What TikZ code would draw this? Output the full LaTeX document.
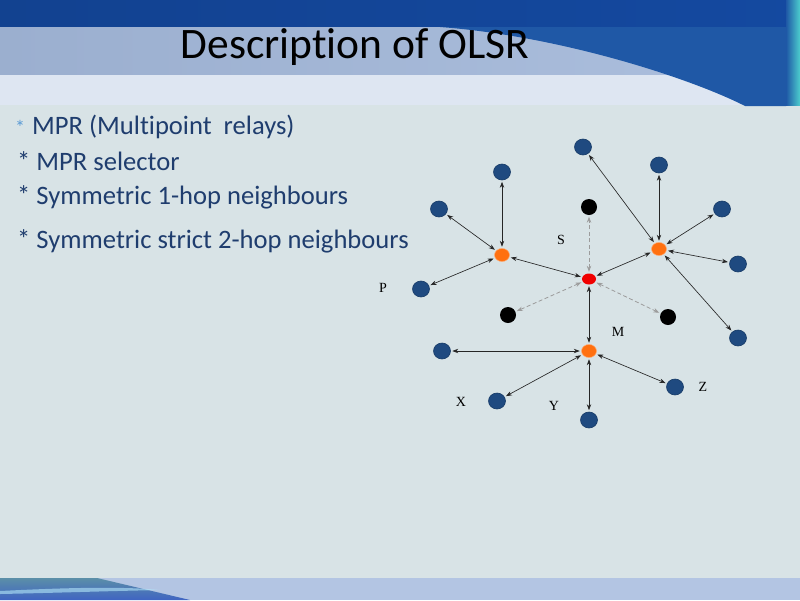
\documentclass[tikz,border=0pt]{standalone}
\usepackage{fontspec}
\setmainfont{Carlito}[RawFeature=-liga]
\newfontfamily\labelfont{Liberation Serif}
\usetikzlibrary{arrows.meta,shapes.geometric}
\definecolor{bodybg}{HTML}{D8E3E6}
\definecolor{darkband}{HTML}{1449A0}
\definecolor{lightband}{HTML}{A3B8DA}
\definecolor{paleband}{HTML}{DEE6F2}
\definecolor{swoosh}{HTML}{1F58A6}
\definecolor{bottomband}{HTML}{B3C5E3}
\definecolor{tealband}{HTML}{5B8FA8}
\definecolor{textblue}{HTML}{1F3D6E}
\definecolor{starblue}{HTML}{5B9BD5}
\definecolor{nodeblue}{HTML}{1F4A80}
\definecolor{nodeblueedge}{HTML}{163A66}
\definecolor{mprorange}{HTML}{FF7010}
\definecolor{selred}{HTML}{F00000}
\definecolor{dashgray}{HTML}{9C9C9C}
\tikzset{
  hop/.style={ellipse, inner sep=0pt, minimum width=17pt, minimum height=16pt, fill=nodeblue, draw=nodeblueedge, line width=0.6pt},
  mpr/.style={ellipse, inner sep=0pt, minimum width=15pt, minimum height=13pt, fill=mprorange, draw=mprorange!60!white, line width=0.5pt},
  sel/.style={ellipse, inner sep=0pt, minimum width=14pt, minimum height=11pt, fill=selred},
  twohop/.style={circle, inner sep=0pt, minimum size=16pt, fill=black},
  link/.style={{Stealth[length=6pt,width=4.4pt]}-{Stealth[length=6pt,width=4.4pt]}, line width=0.65pt, black!85, shorten <=1.5pt, shorten >=1.5pt},
  dlink/.style={{Stealth[length=6pt,width=4.4pt]}-{Stealth[length=6pt,width=4.4pt]}, line width=0.8pt, dashgray, dash pattern=on 4pt off 2.5pt, shorten <=1.5pt, shorten >=1.5pt},
  lbl/.style={font=\labelfont\fontsize{14}{16}\selectfont, inner sep=0pt, text=black},
  bodytext/.style={anchor=base west, inner sep=0pt, text=textblue, font=\fontsize{26.6}{30}\selectfont}
}
\begin{document}
\begin{tikzpicture}[x=1pt,y=-1pt]
\useasboundingbox (0,0) rectangle (800,600);
% backgrounds
\fill[bodybg] (0,0) rectangle (800,600);
\shade[left color=darkband!90!black, right color=darkband] (0,0) rectangle (800,28);
\shade[left color=lightband!95!black, right color=lightband!90!white] (0,27) rectangle (800,75);
\fill[paleband] (0,75) rectangle (800,105);
\fill[swoosh] (440,27) .. controls (560,36) and (690,78) .. (745,106) -- (786,106) -- (786,27) -- cycle;
\shade[left color=swoosh, right color=teal!55!cyan!70!white] (786,0) rectangle (800,105);
\fill[bottomband] (0,578) rectangle (800,600);
\shade[top color=tealband, bottom color=tealband!70!blue] (0,578) -- (97,578) -- (190,600) -- (0,600) -- cycle;
\fill[cyan!30!white, opacity=0.6] (0,591) .. controls (60,588) and (120,586) .. (160,590) .. controls (110,591) and (50,593) .. (0,594) -- cycle;
% title
\node[anchor=base, inner sep=0pt, font=\fontsize{43.5}{48}\selectfont] (title) at (355,58) {Description of OLSR};
% body text
\node[anchor=base west, inner sep=0pt, text=starblue, font=\fontsize{20}{22}\selectfont] (star1) at (15,134) {*};
\node[bodytext] (line1) at (32,134) {MPR (Multipoint\ \ relays)};
\node[bodytext] (line2) at (17,170) {* MPR selector};
\node[bodytext] (line3) at (17,204) {* Symmetric 1-hop neighbours};
\node[bodytext] (line4) at (17,248) {* Symmetric strict 2-hop neighbours};
% nodes
\node[mpr] (L) at (502,255) {};
\node[sel] (R) at (589,279) {};
\node[mpr] (RM) at (659,249) {};
\node[mpr] (M) at (589,351) {};
\node[hop] (a1) at (502,172) {};
\node[hop] (a2) at (439,209) {};
\node[hop] (a3) at (421,289) {};
\node[hop] (b1) at (583,147) {};
\node[hop] (b2) at (659,165) {};
\node[hop] (b3) at (722,209) {};
\node[hop] (b4) at (738,264) {};
\node[hop] (b5) at (738,338) {};
\node[hop] (c1) at (442,351) {};
\node[hop] (c2) at (497,401) {};
\node[hop] (c3) at (589,420) {};
\node[hop] (c4) at (675,387) {};
\node[twohop] (k1) at (589,207) {};
\node[twohop] (k2) at (508,315) {};
\node[twohop] (k3) at (668,317) {};
% labels
\node[lbl] (lS) at (561,240) {S};
\node[lbl] (lP) at (383,288) {P};
\node[lbl] (lM) at (618,332) {M};
\node[lbl] (lX) at (461,402) {X};
\node[lbl] (lY) at (554,406) {Y};
\node[lbl] (lZ) at (703,387) {Z};
% links
\draw[link] (L) -- (a1);
\draw[link] (L) -- (a2);
\draw[link] (L) -- (a3);
\draw[link] (L) -- (R);
\draw[link] (RM) -- (b1);
\draw[link] (RM) -- (b2);
\draw[link] (RM) -- (b3);
\draw[link] (RM) -- (b4);
\draw[link] (RM) -- (b5);
\draw[link] (RM) -- (R);
\draw[link] (R) -- (M);
\draw[link] (M) -- (c1);
\draw[link] (M) -- (c2);
\draw[link] (M) -- (c3);
\draw[link] (M) -- (c4);
\draw[dlink] (R) -- (k1);
\draw[dlink] (R) -- (k2);
\draw[dlink] (R) -- (k3);
\end{tikzpicture}
\end{document}
